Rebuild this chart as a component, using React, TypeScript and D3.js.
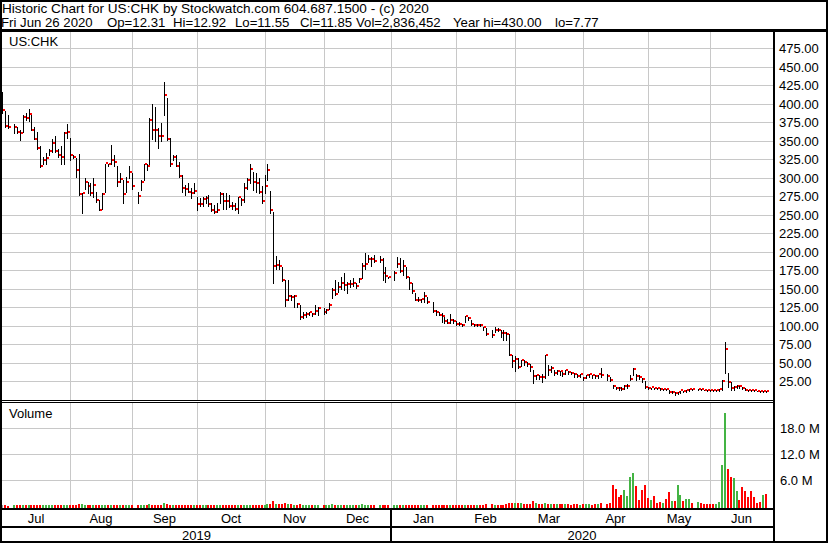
import React from 'react';
import * as d3 from 'd3';

// ---------- DATA ----------
const firstDay = '2019-07-01';
const lastDay = '2020-06-26';
const holidays = ['2019-07-04', '2019-09-02', '2019-11-28', '2019-12-25', '2020-01-01', '2020-01-20', '2020-02-17', '2020-04-10', '2020-05-25'];

const monthLabels = ['Jul', 'Aug', 'Sep', 'Oct', 'Nov', 'Dec', 'Jan', 'Feb', 'Mar', 'Apr', 'May', 'Jun'];
const yearLabels = ['2019', '2020'];
const priceTicks = [25, 50, 75, 100, 125, 150, 175, 200, 225, 250, 275, 300, 325, 350, 375, 400, 425, 450, 475];
const volumeTicks = [6, 12, 18];

const titleLine1 = 'Historic Chart for US:CHK by Stockwatch.com 604.687.1500 - (c) 2020';
const titleLine2 = ['Fri Jun 26 2020', 'Op=12.31', 'Hi=12.92', 'Lo=11.55', 'Cl=11.85', 'Vol=2,836,452', 'Year hi=430.00', 'lo=7.77'];
const symbolLabel = 'US:CHK';
const volumeLabel = 'Volume';

const high = [
  // Jul 2019
  417, 391, 386, 374, 370, 365, 386, 388, 393, 386, 370, 363, 343, 329, 334, 340, 353, 357, 340, 343, 362, 374,
  // Aug
  354, 332, 327, 333, 280, 300, 295, 294, 300, 282, 271, 280, 320, 320, 345, 332, 316, 307, 298, 302, 316, 307,
  // Sep
  282, 298, 320, 320, 382, 400, 397, 368, 375, 430, 408, 355, 332, 331, 322, 305, 291, 293, 287, 293,
  // Oct
  275, 273, 275, 276, 277, 266, 264, 266, 282, 280, 280, 277, 268, 266, 275, 273, 293, 300, 319, 309, 307, 301, 289,
  // Nov
  305, 320, 283, 255, 195, 190, 180, 162, 162, 142, 142, 131, 129, 120, 120, 120, 118.5, 129, 126, 125,
  // Dec
  124, 132, 152, 162.5, 160, 167, 171.5, 160, 162.5, 165, 158, 165, 185, 198.5, 196, 194, 196, 195, 192, 180.5, 167,
  // Jan 2020
  174.5, 194, 192, 189.5, 180.5, 167, 158, 144.5, 140, 137.5, 147, 140, 133, 122, 119.5, 117.5, 113, 110.5, 116.5, 109.5, 107,
  // Feb
  106.2, 103, 114, 113, 108.5, 102.6, 102.6, 103.5, 99.5, 97.2, 95, 99.5, 97.2, 95, 95, 92.7, 90, 61, 60,
  // Mar
  56.8, 54.5, 55, 52, 48.6, 41, 34.2, 34, 35, 61.2, 47.7, 46.4, 41, 40.5, 40, 38, 41, 39.5, 38, 37, 35.5, 35,
  // Apr
  31, 34.2, 35, 34, 34, 34.5, 43.2, 35, 32, 20.7, 18.4, 17.5, 17.5, 20.7, 22.5, 34.2, 43.2, 35, 34, 30.6, 26,
  // May
  17.5, 17.2, 17, 16.8, 16, 15.5, 15, 14, 12, 11, 11, 13, 12.8, 13.5, 15.2, 15.3, 15.5, 15, 14.2, 13.8,
  // Jun
  13.8, 13.5, 13.6, 15.5, 27.5, 78.4, 36.4, 25.2, 20, 20.7, 19.5, 18.4, 16, 14, 13.5, 13.3, 13, 12.5, 13.2, 12.92,
];

const low = [
  // Jul 2019
  388, 370, 368, 361, 361, 352, 363, 379, 377, 365, 353, 340, 315, 320, 319, 332, 336, 335, 329, 319, 319, 354,
  // Aug
  325, 327, 302, 277, 253, 286, 280, 277, 275, 268, 257, 258, 282, 317, 320, 316, 289, 295, 266, 282, 301, 286,
  // Sep
  266, 284, 298, 311, 320, 353, 350, 341, 350, 386, 352, 316, 325, 316, 302, 281, 278, 281, 274, 280,
  // Oct
  257, 262, 262, 266, 262, 256, 252.5, 255, 266, 259, 259, 261, 259, 257, 252.5, 264, 268, 286, 293, 284, 282, 280, 266,
  // Nov
  280, 298, 253, 158, 178, 178, 161, 128, 135, 135, 126, 126, 110.5, 111.5, 113, 115, 114, 116, 115, 117,
  // Dec
  117.5, 124, 138, 142, 147, 151, 149, 144.5, 153.5, 154, 152, 160, 165, 178, 187, 181, 187, 187, 162.5, 160, 165,
  // Jan 2020
  162.5, 180.5, 173.5, 169, 165, 151, 145, 135, 134.5, 133, 133, 131, 119.5, 115, 115, 106, 104, 104, 104, 104, 101.5,
  // Feb
  101.7, 100, 106.2, 108.5, 101.7, 99.9, 99.9, 100.8, 95, 88, 86, 92.7, 94, 86, 81.4, 81.4, 61.2, 44.6, 40,
  // Mar
  43.2, 46.4, 48, 46, 40, 23.8, 28.4, 28.4, 25.2, 30.6, 34.2, 38.7, 34.2, 35.5, 34.7, 33.5, 36, 35.5, 35, 32, 31, 31,
  // Apr
  27, 30.5, 31.5, 30, 30, 30.5, 32, 28, 26, 16, 15, 14, 14, 15.5, 17, 27.5, 34.2, 27.5, 28.4, 25, 16.5,
  // May
  14.9, 15.5, 15.5, 15.5, 14, 14.3, 13.5, 10.5, 9.5, 7.77, 8.5, 10.3, 11, 11.5, 13, 14, 14.3, 13.8, 13.3, 13.1,
  // Jun
  12.8, 12.8, 12.9, 13, 14, 36.4, 18.4, 13.9, 14, 17, 17, 15.5, 13.5, 12.5, 12.3, 12.2, 12, 11.3, 11.8, 11.55,
];

const close = [
  // Jul 2019
  392, 370, 368, 369, 362, 361, 382, 381, 386, 365, 353, 340, 316, 324, 327, 336, 347, 336, 331, 328, 361, 362,
  // Aug
  331, 328, 311, 278, 279, 294, 289, 280, 290, 270, 257, 278, 320, 318, 324, 322, 294, 298, 278, 294, 308, 289,
  // Sep
  276, 294, 319, 316, 378, 365, 364, 357, 356, 412, 353, 318, 328, 316, 303, 286, 285, 281, 280, 282,
  // Oct
  265, 264.5, 272, 273, 265, 256, 253.5, 257, 278, 268.5, 268, 262, 261.5, 258, 274, 270, 286, 297.5, 311.5, 294, 293.5, 281, 268,
  // Nov
  289, 311, 256, 181, 182, 180.5, 162, 135, 140, 138.5, 140, 129, 111.5, 114, 116, 118.5, 116, 120, 124, 119,
  // Dec
  121, 128, 148, 143.5, 152, 158, 154.5, 156, 157, 157.5, 153.5, 163.5, 180.5, 183.5, 190.5, 190, 187.5, 189.5, 171.5, 167, 166,
  // Jan 2020
  171.5, 183.5, 174.5, 180.5, 166, 158, 147, 135.5, 134.5, 136.5, 140, 132, 119.5, 119, 115.2, 113, 106.2, 104.2, 108.5, 106.2, 102.6,
  // Feb
  102.3, 100.8, 113, 110.7, 102.6, 100.8, 101.7, 101.5, 98.1, 89.5, 87.3, 95, 94.5, 90.5, 90, 89, 61.2, 52.7, 54.5,
  // Mar
  43.7, 54, 50.9, 48.6, 44.6, 32, 32.9, 30.6, 30.5, 59.9, 40, 43.2, 35.6, 38.7, 38.6, 35.1, 40, 37.4, 36.5, 35.1, 32, 34.2,
  // Apr
  28.8, 32.9, 34.5, 32.9, 32, 34.2, 34, 32, 26.6, 18.4, 16.2, 15.3, 15.2, 18.4, 19.3, 28.4, 41, 32, 30.6, 27.5, 17,
  // May
  16.5, 16.7, 16.3, 16, 14.9, 15, 14, 10.8, 11, 8.6, 10.5, 12.6, 11.7, 13.1, 14.9, 14.6, 14.9, 14, 13.6, 13.4,
  // Jun
  13.2, 13.1, 13.3, 14.9, 25.2, 69.3, 24.3, 15.5, 17, 19.3, 18.4, 16.2, 13.9, 13, 12.8, 12.6, 12.4, 11.7, 12.3, 11.85,
];

// millions of shares
const volume = [
  // Jul 2019
  0.35, 0.2, 0.15, 0.2, 0.2, 0.25, 0.2, 0.3, 0.25, 0.3, 0.3, 0.3, 0.35, 0.2, 0.2, 0.25, 0.2, 0.2, 0.25, 0.25, 0.35, 0.35,
  // Aug
  0.3, 0.25, 0.35, 0.5, 0.45, 0.3, 0.2, 0.2, 0.25, 0.2, 0.3, 0.25, 0.35, 0.25, 0.3, 0.25, 0.3, 0.2, 0.3, 0.2, 0.25, 0.2,
  // Sep
  0.25, 0.3, 0.3, 0.25, 0.5, 0.4, 0.3, 0.25, 0.3, 0.85, 0.45, 0.4, 0.3, 0.3, 0.35, 0.35, 0.3, 0.25, 0.3, 0.25,
  // Oct
  0.3, 0.25, 0.25, 0.3, 0.25, 0.3, 0.25, 0.2, 0.3, 0.25, 0.3, 0.25, 0.2, 0.25, 0.3, 0.25, 0.3, 0.3, 0.4, 0.3, 0.25, 0.3, 0.35,
  // Nov
  0.4, 0.55, 0.6, 1.3, 0.6, 0.45, 0.5, 0.7, 0.55, 0.45, 0.4, 0.35, 0.45, 0.35, 0.3, 0.3, 0.25, 0.3, 0.35, 0.2,
  // Dec
  0.3, 0.35, 0.5, 0.4, 0.35, 0.35, 0.3, 0.3, 0.35, 0.3, 0.3, 0.35, 0.45, 0.4, 0.35, 0.35, 0.3, 0.3, 0.35, 0.3, 0.25,
  // Jan 2020
  0.25, 0.3, 0.25, 0.3, 0.25, 0.3, 0.3, 0.3, 0.25, 0.2, 0.3, 0.25, 0.35, 0.3, 0.25, 0.3, 0.3, 0.25, 0.3, 0.25, 0.3,
  // Feb
  0.3, 0.25, 0.3, 0.25, 0.3, 0.25, 0.25, 0.3, 0.3, 0.5, 0.45, 0.35, 0.3, 0.35, 0.4, 0.45, 0.85, 0.7, 0.8,
  // Mar
  0.75, 0.8, 0.6, 0.5, 0.45, 1.2, 0.7, 0.5, 0.6, 0.8, 0.6, 0.55, 0.6, 0.55, 0.5, 0.45, 0.5, 0.45, 0.4, 0.5, 0.45, 0.4,
  // Apr
  0.45, 0.5, 0.45, 0.4, 0.5, 0.45, 0.7, 0.5, 0.8, 4.9, 4.1, 2.2, 2.6, 3.8, 2.4, 6.8, 7.6, 4.7, 1.4, 3.8, 5.0,
  // May
  1.9, 1.5, 2.4, 0.8, 1.0, 0.8, 1.7, 3.3, 1.2, 1.3, 4.9, 2.6, 1.2, 1.7, 1.7, 0.8, 0.9, 0.8, 0.6, 0.6,
  // Jun
  0.6, 0.5, 0.6, 0.9, 9.5, 21.6, 8.6, 6.8, 6.6, 3.6, 1.5, 4.4, 3.5, 2.2, 3.5, 2.1, 0.8, 1.0, 2.6, 2.84,
];

// ---------- LAYOUT ----------
const W = 830;
const H = 543;
const plotLeft = 2;
const plotRight = 773;
const priceTop = 32;
const priceBottom = 400;
const volTop = 403;
const volBottom = 508;
const FONT = '"Liberation Sans", Arial, Helvetica, sans-serif';
const GRID = '#c8c8c8';
const UP = '#44b444';
const DOWN = '#ff0000';
const titleX = [1, 107, 173, 235, 300, 356, 453, 555];

export default function App() {
  const parse = d3.timeParse('%Y-%m-%d');
  const fmt = d3.timeFormat('%Y-%m-%d');
  const start = parse(firstDay) as Date;
  const end = parse(lastDay) as Date;
  const weekdays = d3.timeDay
    .range(start, d3.timeDay.offset(end, 1))
    .filter((d) => d.getDay() !== 0 && d.getDay() !== 6);
  const holidaySet = new Set(holidays);
  const tradeIdx: number[] = [];
  weekdays.forEach((d, i) => {
    if (!holidaySet.has(fmt(d))) tradeIdx.push(i);
  });

  const x = d3.scaleLinear().domain([0, weekdays.length - 1]).range([2, 766]);
  const yP = d3.scaleLinear().domain([0, 475]).range([400.3, 48.8]);
  const yV = d3.scaleLinear().domain([0, 18]).range([506.3, 428.3]);

  // month boundaries: last weekday on or before the 1st of each month
  const months = d3.timeMonth.range(start, end);
  const boundaries = months.slice(1).map((m) => {
    let idx = 0;
    weekdays.forEach((d, i) => {
      if (d <= m) idx = i;
    });
    return Math.round(x(idx));
  });
  const edges = [plotLeft, ...boundaries, plotRight];
  const janIdx = months.findIndex((m) => m.getMonth() === 0);
  const yearEdge = edges[janIdx];
  const yearEdges = [plotLeft, yearEdge, plotRight];

  const bars = tradeIdx.map((wi, k) => {
    const bx = Math.round(x(wi));
    const prev = k > 0 ? close[k - 1] : close[k];
    const color = close[k] > prev ? UP : close[k] < prev ? DOWN : '#999999';
    return { bx, hi: high[k], lo: low[k], c: close[k], v: volume[k], color };
  });

  return (
    <div style={{ position: 'absolute', left: 0, top: 0 }}>
      <style>{'body{margin:0}'}</style>
      <svg width={W} height={H} style={{ display: 'block', background: '#fff' }} fontFamily={FONT}>
        <rect x={0} y={0} width={W} height={H} fill="#fff" />

        {/* price grid */}
        {priceTicks.map((t) => (
          <line key={'pg' + t} x1={plotLeft} x2={plotRight} y1={Math.floor(yP(t)) + 0.5} y2={Math.floor(yP(t)) + 0.5} stroke={GRID} strokeWidth={1} />
        ))}
        {/* volume grid */}
        {volumeTicks.map((t) => (
          <line key={'vg' + t} x1={plotLeft} x2={plotRight} y1={Math.floor(yV(t)) + 0.5} y2={Math.floor(yV(t)) + 0.5} stroke={GRID} strokeWidth={1} />
        ))}
        {/* month vertical grid */}
        {boundaries.map((bx, i) => (
          <g key={'mg' + i}>
            <line x1={bx + 0.5} x2={bx + 0.5} y1={priceTop} y2={priceBottom} stroke={GRID} strokeWidth={1} />
            <line x1={bx + 0.5} x2={bx + 0.5} y1={volTop} y2={volBottom} stroke={GRID} strokeWidth={1} />
          </g>
        ))}

        {/* price bars */}
        {bars.map((b, i) => {
          const yh = Math.round(yP(b.hi));
          const yl = Math.round(yP(b.lo));
          const yc = Math.floor(yP(b.c));
          return (
            <g key={'b' + i}>
              <rect x={b.bx} y={yh} width={1} height={Math.max(1, yl - yh + 1)} fill="#000" />
              <rect x={b.bx + 1} y={yc - 1} width={2} height={2} fill="#ff0000" />
            </g>
          );
        })}

        {/* volume bars */}
        {bars.map((b, i) => {
          const top = Math.min(Math.round(yV(b.v)), 506);
          return <rect key={'v' + i} x={b.bx - 1} y={top} width={2} height={volBottom - top} fill={b.color} />;
        })}

        {/* frame lines */}
        <rect x={0} y={0} width={W - 2} height={2} fill="#000" />
        <rect x={0} y={0} width={2} height={H} fill="#000" />
        <rect x={826} y={0} width={2} height={H} fill="#000" />
        <rect x={0} y={541} width={828} height={2} fill="#000" />
        <rect x={0} y={29} width={828} height={3} fill="#000" />
        <rect x={plotLeft} y={400} width={plotRight - plotLeft} height={1} fill="#000" />
        <rect x={plotLeft} y={402} width={plotRight - plotLeft} height={1} fill="#000" />
        <rect x={0} y={508} width={plotRight} height={2} fill="#000" />
        <rect x={0} y={526} width={plotRight} height={2} fill="#000" />
        <rect x={773} y={32} width={2} height={H - 32} fill="#000" />
        <rect x={yearEdge - 1} y={510} width={2} height={31} fill="#000" />

        {/* title */}
        <text x={2} y={13} fontSize={13.6} fill="#000">{titleLine1}</text>
        {titleLine2.map((s, i) => (
          <text key={'t2' + i} x={titleX[i]} y={27} fontSize={13.2} fill="#000">{s}</text>
        ))}
        <text x={9} y={46} fontSize={13} fill="#000">{symbolLabel}</text>
        <text x={9} y={418} fontSize={13} fill="#000">{volumeLabel}</text>

        {/* right axis labels */}
        {priceTicks.map((t) => (
          <text key={'pl' + t} x={779} y={yP(t) + 4.5} fontSize={13} fill="#000">{t.toFixed(2)}</text>
        ))}
        {volumeTicks.map((t) => (
          <text key={'vl' + t} x={780} y={yV(t) + 4.5} fontSize={13} fill="#000">{t.toFixed(1) + ' M'}</text>
        ))}

        {/* month labels */}
        {monthLabels.map((m, i) => (
          <text key={'ml' + i} x={(edges[i] + edges[i + 1]) / 2} y={523} fontSize={13} textAnchor="middle" fill="#000">{m}</text>
        ))}
        {yearLabels.map((yl, i) => (
          <text key={'yl' + i} x={(yearEdges[i] + yearEdges[i + 1]) / 2} y={539.5} fontSize={13} textAnchor="middle" fill="#000">{yl}</text>
        ))}
      </svg>
    </div>
  );
}
